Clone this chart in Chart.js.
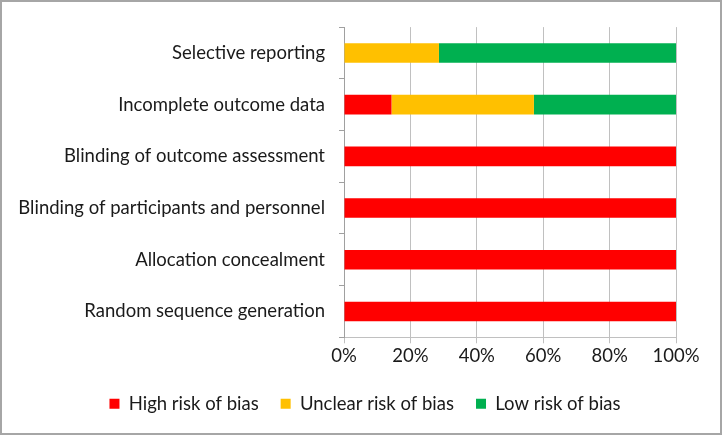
<!DOCTYPE html>
<html><head><meta charset="utf-8">
<script src="https://cdn.jsdelivr.net/npm/chart.js@4"></script>
<style>
html,body{margin:0;padding:0;background:#fff;}
#wrap{position:relative;width:722px;height:435px;box-sizing:border-box;border:2px solid #a6a6a6;}
#c{display:block;}
</style></head><body>
<div id="wrap"><canvas id="c" width="718" height="431"></canvas></div>
<script>
const categories = ['Selective reporting','Incomplete outcome data','Blinding of outcome assessment','Blinding of participants and personnel','Allocation concealment','Random sequence generation'];
const highRisk = [0, 14.3, 100, 100, 100, 100];
const unclearRisk = [28.6, 42.9, 0, 0, 0, 0];
const lowRisk = [71.4, 42.8, 0, 0, 0, 0];
const seriesNames = ['High risk of bias','Unclear risk of bias','Low risk of bias'];
const xTicks = [0,20,40,60,80,100];

const FONT = 'Lato, "Open Sans", sans-serif';
const legendShift = {
  id: 'legendShift',
  afterLayout(chart) {
    if (chart.legend) { chart.legend.left += 21; chart.legend.right += 21; }
  }
};
new Chart(document.getElementById('c'), {
  type: 'bar',
  data: {
    labels: categories,
    datasets: [
      {label: seriesNames[0], data: highRisk, backgroundColor: '#ff0000', barPercentage: 0.38, categoryPercentage: 1},
      {label: seriesNames[1], data: unclearRisk, backgroundColor: '#ffc000', barPercentage: 0.38, categoryPercentage: 1},
      {label: seriesNames[2], data: lowRisk, backgroundColor: '#00b050', barPercentage: 0.38, categoryPercentage: 1}
    ]
  },
  plugins: [legendShift],
  options: {
    indexAxis: 'y',
    responsive: false,
    animation: false,
    layout: {padding: {top: 21, right: 44, left: 10, bottom: 10}},
    plugins: {
      tooltip: {enabled: false},
      legend: {
        position: 'bottom',
        labels: {boxWidth: 10, boxHeight: 10, padding: 22, color: '#1a1a1a', font: {family: FONT, size: 18.5}}
      }
    },
    scales: {
      x: {
        stacked: true, min: 0, max: 100,
        afterBuildTicks: (s) => { s.ticks = xTicks.map(v => ({value: v})); },
        afterFit: (s) => { s.height += 3; },
        ticks: {callback: v => v + '%', color: '#1a1a1a', font: {family: FONT, size: 18.5}, padding: 2, maxRotation: 0},
        grid: {color: '#c0c0c0', lineWidth: 1, tickLength: 6, drawTicks: true},
        border: {color: '#c0c0c0'}
      },
      y: {
        stacked: true,
        ticks: {color: '#1a1a1a', font: {family: FONT, size: 18.5}, padding: 14},
        grid: {drawOnChartArea: false, color: '#a0a0a0', tickLength: 5},
        border: {color: '#a0a0a0'}
      }
    }
  }
});
</script>
</body></html>
